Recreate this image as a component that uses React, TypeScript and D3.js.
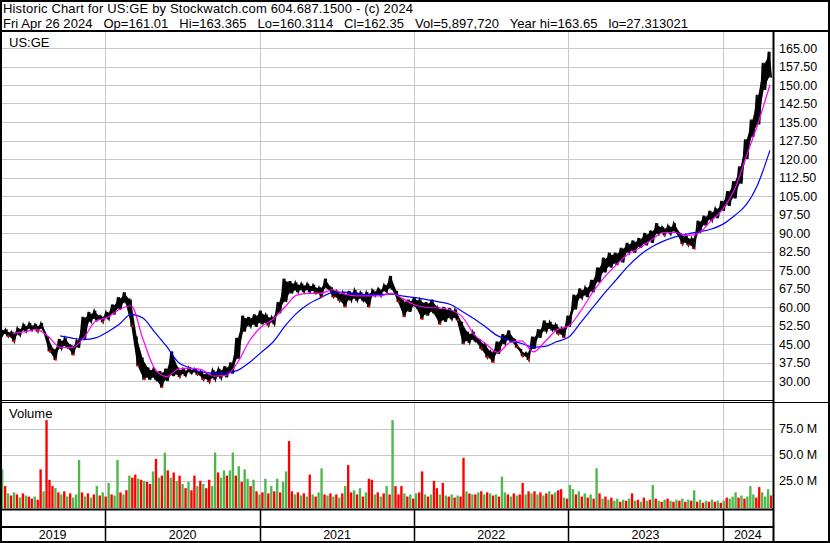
import React from 'react';
import * as d3 from 'd3';

// biweekly price range (Apr 2019 - Apr 2024)
const priceHigh = [
  51.8, 51, 50, 51.5, 53, 53.5, 53, 53.5, 48, 43,
  47, 47.5, 44.5, 46.5, 56, 58, 58.5, 56.5, 58, 61,
  64, 66, 63, 48, 39.5, 35.5, 35, 34, 35, 42,
  35.5, 35, 35.5, 35, 34, 33, 34.5, 35, 36, 37.5,
  47.5, 56.5, 56, 57, 58.5, 57, 56, 62, 71.5, 70.5,
  70, 69.5, 69.5, 69, 68, 71.5, 68, 66.5, 66, 66.5,
  67, 66, 66, 67, 67.5, 69, 72.6, 66.5, 63, 63,
  64, 63, 62, 63, 60, 60, 59.5, 59, 54, 50,
  50, 47, 45, 42, 46, 49, 50.5, 47, 43, 41.5,
  48, 51, 54.5, 54, 53, 51.5, 56.5, 65, 67.5, 68,
  71, 76, 80, 82, 82, 84, 86, 87, 88, 90,
  91, 94, 92.5, 93, 94, 90, 89, 88, 95, 97,
  99, 100, 103, 107, 111, 117, 128, 136, 146, 159, 163.5,
];
const priceLow = [
  48.5, 48, 46, 48.5, 50, 50.5, 50, 50.5, 42, 38.5,
  43, 43.5, 40.5, 43.5, 47, 54, 54.5, 53.8, 55, 57,
  59, 61.5, 52, 36, 30.5, 30.5, 30.5, 27.3, 30, 32,
  31.6, 32, 33, 32.5, 30.5, 29.6, 30.5, 31, 31.5, 33,
  39, 50, 52, 52, 53, 52.5, 53, 57.5, 62, 65.5,
  66, 66, 66, 65.5, 64, 67.5, 64, 62.5, 60, 62.5,
  62.5, 62.5, 60, 64.5, 64.5, 66, 67, 62, 56, 58,
  60, 55, 56.5, 57.5, 53, 54, 55, 54.5, 45, 45.5,
  46, 43, 39.5, 37.5, 41, 45, 46, 43.5, 40, 38.5,
  43, 47.5, 50, 50.5, 49, 47.5, 52, 59, 63.5, 64,
  66, 70, 74, 76, 77, 78, 82, 82, 84, 85,
  86, 89.5, 89, 89.5, 90, 85.5, 85, 83.5, 90, 93,
  95, 96, 99, 101, 104, 110, 120, 129, 134, 148, 153,
];

// moving averages, one value every four weeks
const maShort = [
  null, 49.3, 49.9, 50.8, 48, 43.6, 43.5, 47.5, 54.3, 55.8,
  59, 60.5, 47, 35, 31.8, 34.8, 35.2, 34.5, 32, 32.2,
  37.5, 46.2, 52, 55, 60, 64.8, 65.5, 65.5, 67, 65.3,
  64.5, 64.5, 64.5, 65.5, 63.3, 60.8, 59.8, 59.6, 58.8, 56,
  48.8, 45, 41.6, 45.5, 46.3, 41.8, 46, 50.8, 52.3, 58.3,
  65.8, 72, 77, 81.4, 84, 87.3, 90.2, 90.2, 89, 90,
  94.8, 99.5, 107.5, 121, 134.5, 150,
];
const maLong = [
  null, null, null, null, null, 48.3, 47.4, 46.8, 47.5, 49.9,
  53, 57, 55.5, 49.8, 44, 37.5, 35.3, 33.6, 33.2, 33.2,
  34.3, 37.5, 41.6, 45.8, 52.2, 57.5, 61.2, 63.7, 65.8, 66,
  65.3, 65, 65, 65.2, 64.4, 63.8, 63, 62.1, 61, 58.2,
  55.2, 51.8, 48.3, 46.6, 45.2, 43.7, 44, 46, 47.8, 53.7,
  59.6, 65.5, 71, 76.5, 81, 84.3, 86.7, 88.4, 89.6, 90.5,
  91.5, 93.5, 97, 101.5, 110, 123.5,
];

// weekly volume in millions, and up (g) / down (r) flag
const volume = [
  36, 20, 13, 11, 14, 12, 9, 13, 11, 10,
  8, 10, 7, 36, 15, 83, 26, 20, 18, 14,
  12, 15, 10, 13, 9, 12, 45, 14, 10, 13,
  9, 12, 20, 11, 14, 10, 23, 12, 11, 45,
  14, 12, 16, 30, 28, 31, 27, 26, 25, 24,
  22, 34, 46, 28, 30, 52, 35, 28, 33, 25,
  30, 22, 18, 24, 16, 30, 20, 25, 22, 18,
  26, 20, 52, 33, 28, 35, 30, 35, 52, 30,
  39, 24, 36, 27, 20, 26, 15, 12, 14, 27,
  13, 20, 15, 27, 14, 24, 34, 63, 15, 12,
  14, 11, 13, 10, 31, 12, 10, 14, 37, 12,
  11, 13, 10, 12, 9, 13, 20, 40, 14, 16,
  12, 18, 10, 14, 27, 26, 12, 14, 10, 13,
  20, 12, 83, 20, 12, 20, 13, 10, 12, 8,
  13, 14, 34, 12, 10, 12, 25, 18, 12, 23,
  11, 10, 12, 9, 11, 10, 47, 15, 13, 12,
  12, 14, 15, 12, 14, 13, 11, 12, 10, 29,
  14, 12, 10, 13, 11, 12, 23, 12, 15, 13,
  15, 12, 14, 11, 13, 15, 12, 14, 16, 17,
  9, 8, 21, 17, 12, 15, 10, 13, 9, 12,
  8, 37, 13, 8, 10, 7, 9, 6, 8, 5,
  7, 6, 8, 13, 6, 7, 5, 9, 6, 7,
  21, 8, 6, 5, 7, 8, 6, 5, 7, 6,
  8, 5, 7, 6, 16, 5, 7, 4, 6, 5,
  7, 5, 6, 4, 6, 9, 8, 10, 14, 9,
  11, 8, 10, 20, 12, 9, 19, 14, 10, 17, 11,
];
const volColor =
  'grgrgrgrgr' + 'rgrrgrrrgr' + 'grgrgggrgr' + 'grgrgrgrgg' + 'rgrgrrgrgr' +
  'rgrgrgrgrg' + 'rgrgrrgrgr' + 'rggrggrggr' + 'grggrgrgrg' + 'rgrgrggrrg' +
  'rgrgrgrggr' + 'grgrgrgrrg' + 'rgrgrrgrgr' + 'grgrrrgrgr' + 'grrgrgrrgr' +
  'grgrgrrgrg' + 'rgrgrgrgrg' + 'grgrgrrgrg' + 'rgrgrgrgrr' + 'grggrgrgrg' +
  'rgrgrgrggr' + 'grgrgrgrgr' + 'grgrgrgrgr' + 'grgrgrgrgr' + 'grgrgrgggr' +
  'grgggrrgggr';

const priceTicks = [30, 37.5, 45, 52.5, 60, 67.5, 75, 82.5, 90, 97.5, 105, 112.5, 120, 127.5, 135, 142.5, 150, 157.5, 165];
const volTicks = [25, 50, 75];
const years = [2019, 2020, 2021, 2022, 2023, 2024];

const title = 'Historic Chart for US:GE by Stockwatch.com 604.687.1500 - (c) 2024';
const quote = 'Fri Apr 26 2024   Op=161.01   Hi=163.365   Lo=160.3114   Cl=162.35   Vol=5,897,720   Year hi=163.65   lo=27.313021';

const START = new Date(2019, 3, 29);
const END = new Date(2024, 3, 27);
const AXIS_X = 773;
const FONT = '"Liberation Sans", Arial, sans-serif';
const GRID = '#c8c8c8';

export default function App() {
  const x = d3.scaleTime().domain([START, END]).range([1, AXIS_X - 1]);
  const y = d3.scaleLinear().domain([30, 165]).range([381, 48]);
  const yv = d3.scaleLinear().domain([0, 75]).range([507, 428.5]);

  const samples = priceHigh.map((hi, i) => ({
    date: d3.timeDay.offset(START, 14 * i),
    hi,
    lo: priceLow[i],
  }));

  // jagged trace: each sample goes up to its high, then down to its low
  const zig: [number, number][] = [];
  samples.forEach(s => {
    const cx = x(s.date);
    zig.push([cx - 1.5, y(s.hi)]);
    zig.push([cx + 1.5, y(s.lo)]);
  });
  const zigPath = d3.line()(zig) || '';
  const inner = d3.area<any>()
    .x(d => x(d.date))
    .y0(d => y(d.lo) - 2)
    .y1(d => y(d.hi) + 2)(samples) || '';

  const maLine = (vals: (number | null)[]) =>
    d3.line<any>()
      .defined(d => d.v != null)
      .x(d => x(d.date))
      .y(d => y(d.v))
      .curve(d3.curveMonotoneX)(vals.map((v, j) => ({ date: d3.timeDay.offset(START, 28 * j), v }))) || '';

  const yearStarts = years.slice(1).map(yr => x(new Date(yr, 0, 1)));
  const fmt = d3.format('.2f');

  return (
    <svg width={830} height={543} style={{ position: 'absolute', left: 0, top: 0, background: '#fff' }}
      fontFamily={FONT} fontSize={12}>
      <defs>
        <clipPath id="pricePanel"><rect x={0} y={32} width={AXIS_X - 1} height={368} /></clipPath>
        <clipPath id="volPanel"><rect x={0} y={404} width={AXIS_X - 1} height={104} /></clipPath>
      </defs>

      {/* grid */}
      {priceTicks.map(t => (
        <line key={'pg' + t} x1={0} x2={AXIS_X} y1={Math.round(y(t)) + 0.5} y2={Math.round(y(t)) + 0.5} stroke={GRID} />
      ))}
      {volTicks.map(t => (
        <line key={'vg' + t} x1={0} x2={AXIS_X} y1={Math.round(yv(t)) + 0.5} y2={Math.round(yv(t)) + 0.5} stroke={GRID} />
      ))}
      {yearStarts.map((xx, i) => (
        <line key={'yg' + i} x1={Math.round(xx) + 0.5} x2={Math.round(xx) + 0.5} y1={32} y2={509} stroke={GRID} />
      ))}

      {/* volume */}
      <g clipPath="url(#volPanel)">
        {volume.map((v, w) => {
          const d0 = d3.timeDay.offset(START, 7 * w);
          const x0 = x(d0);
          const x1 = x(d3.timeDay.offset(d0, 7));
          return (
            <rect key={'v' + w} x={x0} y={yv(v)} width={Math.max(1, x1 - x0 - 0.6)} height={yv(0) - yv(v) + 1}
              fill={volColor[w] === 'g' ? '#4cb84c' : '#ff0000'} />
          );
        })}
      </g>

      {/* price */}
      <g clipPath="url(#pricePanel)">
        <path d={inner} fill="#000" />
        <path d={zigPath} fill="none" stroke="#000" strokeWidth={1.6} strokeLinejoin="miter" />
        {samples.map((s, i) => (
          <line key={'b' + i} x1={x(s.date)} x2={x(s.date)} y1={y(s.lo)} y2={y(s.hi)} stroke="#000" strokeWidth={1.5} />
        ))}
        <path d={maLine(maLong)} fill="none" stroke="#0000ff" strokeWidth={1.2} />
        <path d={maLine(maShort)} fill="none" stroke="#ff00ff" strokeWidth={1.2} />
        {samples.map((s, i) => (i > 0 && s.lo < samples[i - 1].lo ? (
          <rect key={'r' + i} x={x(s.date) + 0.5} y={y(s.lo) - 1.5} width={2} height={2} fill="#ff0000" />
        ) : null))}
      </g>

      {/* frame and separators */}
      <rect x={1} y={1} width={828} height={541} fill="none" stroke="#000" strokeWidth={2} />
      <line x1={0} x2={830} y1={31} y2={31} stroke="#000" strokeWidth={2} />
      <line x1={AXIS_X + 0.5} x2={AXIS_X + 0.5} y1={31} y2={543} stroke="#000" strokeWidth={2} />
      <line x1={0} x2={AXIS_X} y1={400.5} y2={400.5} stroke="#000" />
      <line x1={0} x2={830} y1={402.5} y2={402.5} stroke="#000" />
      <line x1={0} x2={AXIS_X} y1={509.5} y2={509.5} stroke="#000" strokeWidth={2} />
      <line x1={0} x2={AXIS_X} y1={527} y2={527} stroke="#000" strokeWidth={2} />
      {yearStarts.map((xx, i) => (
        <line key={'ys' + i} x1={Math.round(xx) + 0.5} x2={Math.round(xx) + 0.5} y1={509} y2={543} stroke="#000" strokeWidth={1.5} />
      ))}

      {/* header */}
      <text x={3} y={13} textLength={410} lengthAdjust="spacing" style={{ whiteSpace: 'pre' }} fontSize={13}>{title}</text>
      <text x={3} y={28} textLength={685} lengthAdjust="spacing" style={{ whiteSpace: 'pre' }} fontSize={13}>{quote}</text>
      <text x={9} y={47} fontSize={13}>US:GE</text>
      <text x={9} y={418} fontSize={13}>Volume</text>

      {/* axis labels */}
      {priceTicks.map(t => (
        <text key={'pt' + t} x={779} y={y(t) + 4.5} fontSize={12.5}>{fmt(t)}</text>
      ))}
      {volTicks.map(t => (
        <text key={'vt' + t} x={779} y={yv(t) + 4.5} fontSize={12.5}>{`${t.toFixed(1)} M`}</text>
      ))}
      {years.map((yr, i) => {
        const a = Math.max(0, x(new Date(yr, 0, 1)));
        const b = Math.min(AXIS_X, x(new Date(yr + 1, 0, 1)));
        return <text key={'yr' + yr} x={(a + b) / 2} y={539} textAnchor="middle" fontSize={12.5}>{yr}</text>;
      })}
    </svg>
  );
}
